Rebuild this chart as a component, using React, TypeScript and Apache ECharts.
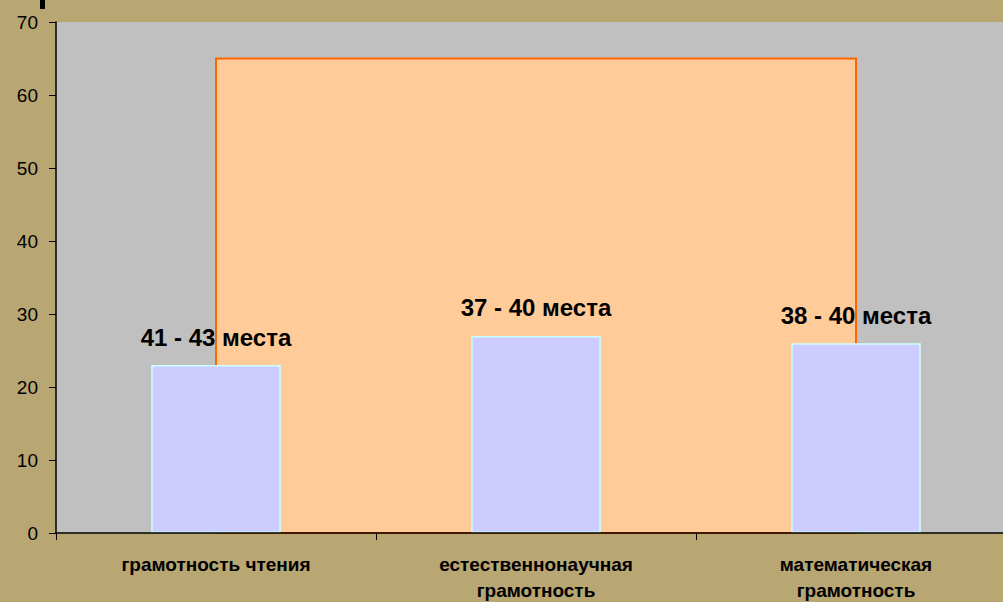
import React, { useEffect, useRef } from "react";
import * as echarts from "echarts";

const categories = ["грамотность чтения", "естественнонаучная\nграмотность", "математическая\nграмотность"];
const barValues = [23, 27, 26];
const barLabels = ["41 - 43 места", "37 - 40 места", "38 - 40 места"];
const areaValues = [65, 65, 65];
const yMin = 0;
const yMax = 70;
const yInterval = 10;

export default function App() {
  const ref = useRef<HTMLDivElement>(null);
  useEffect(() => {
    document.body.style.margin = "0";
    const chart = echarts.init(ref.current!, null, { renderer: "svg" });
    chart.setOption({
      animation: false,
      backgroundColor: "#b8a673",
      textStyle: { fontFamily: "Liberation Sans, Arial, sans-serif" },
      graphic: [
        { type: "rect", shape: { x: 40, y: 0, width: 5, height: 9 }, style: { fill: "#000" }, z: 100 },
      ],
      grid: {
        left: 56,
        top: 22,
        width: 960,
        height: 511,
        backgroundColor: "#c0c0c0",
        show: true,
        borderWidth: 0,
        outerBoundsMode: "none",
        containLabel: false,
      },
      xAxis: {
        type: "category",
        data: categories,
        boundaryGap: true,
        axisLine: { lineStyle: { color: "#000", width: 1.5 } },
        axisTick: { show: true, length: 7, lineStyle: { color: "#000" } },
        axisLabel: { color: "#000", fontWeight: "bold", fontSize: 19, margin: 18, lineHeight: 26, interval: 0 },
        z: 10,
      },
      yAxis: {
        type: "value",
        min: yMin,
        max: yMax,
        interval: yInterval,
        splitLine: { show: false },
        axisLine: { show: true, lineStyle: { color: "#000", width: 1.5 } },
        axisTick: { show: true, length: 7, lineStyle: { color: "#000" } },
        axisLabel: { color: "#000", fontSize: 19, margin: 18 },
        z: 10,
      },
      series: [
        {
          type: "custom",
          z: 1,
          data: areaValues.map((v, i) => [i, v]),
          renderItem: (params: any, api: any) => {
            if (params.dataIndex !== 0) return null;
            const top = areaValues.map((v, i) => api.coord([i, v]));
            const bottom = areaValues.map((_, i) => api.coord([i, 0])).reverse();
            return {
              type: "polygon",
              shape: { points: [...top, ...bottom] },
              style: { fill: "#ffcc99", stroke: "#ff6600", lineWidth: 2 },
            };
          },
        },
        {
          type: "bar",
          z: 3,
          data: barValues,
          barWidth: "40.5%",
          itemStyle: { color: "#ccccff", borderColor: "#ccffff", borderWidth: 1.5 },
          label: {
            show: true,
            position: "top",
            distance: 16,
            color: "#000",
            fontWeight: "bold",
            fontSize: 24,
            formatter: (p: any) => barLabels[p.dataIndex],
          },
        },
      ],
    });
    return () => chart.dispose();
  }, []);
  return (
    <div style={{ width: 1003, height: 602, overflow: "hidden", position: "relative" }}>
      <div ref={ref} style={{ width: 1003, height: 602 }} />
    </div>
  );
}
